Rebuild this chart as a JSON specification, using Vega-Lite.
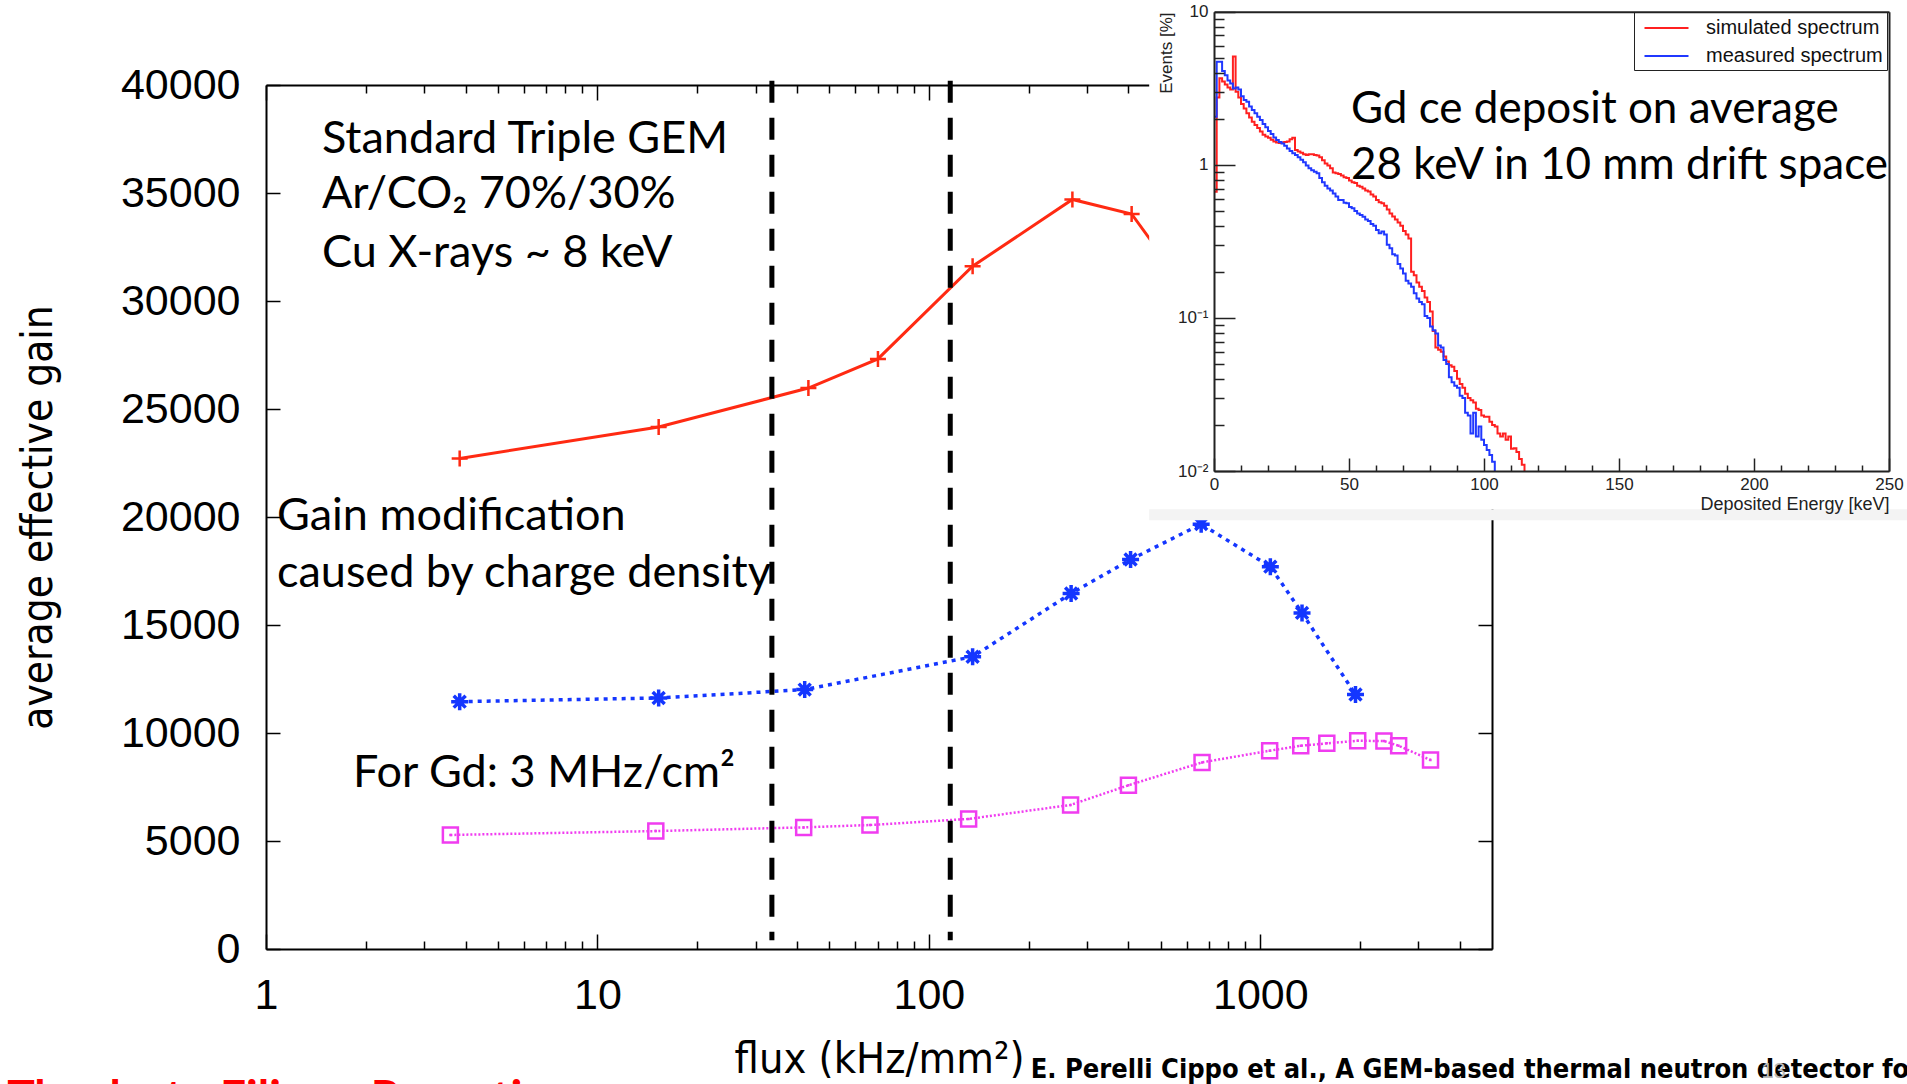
{
  "$schema": "https://vega.github.io/schema/vega-lite/v6.json",
  "width": 1907,
  "height": 1084,
  "autosize": "none",
  "padding": 0,
  "background": "white",
  "config": {
    "view": {"stroke": null},
    "font": "Liberation Sans",
    "axis": {"grid": false}
  },
  "datasets": {
    "gain": [
      {"series": "A", "flux": 3.84, "gain": 22710},
      {"series": "A", "flux": 15.3, "gain": 24170},
      {"series": "A", "flux": 43.3, "gain": 25970},
      {"series": "A", "flux": 70.2, "gain": 27320},
      {"series": "A", "flux": 135.5, "gain": 31610},
      {"series": "A", "flux": 271, "gain": 34700},
      {"series": "A", "flux": 409, "gain": 34030},
      {"series": "A", "flux": 1070, "gain": 25200},
      {"series": "B", "flux": 3.84, "gain": 11450},
      {"series": "B", "flux": 15.3, "gain": 11620},
      {"series": "B", "flux": 42.2, "gain": 12010},
      {"series": "B", "flux": 135.5, "gain": 13530},
      {"series": "B", "flux": 268.6, "gain": 16460},
      {"series": "B", "flux": 406, "gain": 18030},
      {"series": "B", "flux": 663, "gain": 19670},
      {"series": "B", "flux": 1072, "gain": 17700},
      {"series": "B", "flux": 1336, "gain": 15560},
      {"series": "B", "flux": 1937, "gain": 11780},
      {"series": "C", "flux": 3.6, "gain": 5280},
      {"series": "C", "flux": 15.0, "gain": 5460},
      {"series": "C", "flux": 41.9, "gain": 5630},
      {"series": "C", "flux": 66.4, "gain": 5740},
      {"series": "C", "flux": 131.8, "gain": 6020},
      {"series": "C", "flux": 267.6, "gain": 6670},
      {"series": "C", "flux": 400, "gain": 7580},
      {"series": "C", "flux": 667, "gain": 8640},
      {"series": "C", "flux": 1067, "gain": 9180},
      {"series": "C", "flux": 1324, "gain": 9410},
      {"series": "C", "flux": 1587, "gain": 9520},
      {"series": "C", "flux": 1967, "gain": 9640},
      {"series": "C", "flux": 2360, "gain": 9630},
      {"series": "C", "flux": 2614, "gain": 9410},
      {"series": "C", "flux": 3262, "gain": 8750}
    ],
    "cuts": [{"flux": 33.6}, {"flux": 116}],
    "notes": [
      {"kind": "plot", "text": "Standard Triple GEM", "flux": 1.475, "gain": 36850},
      {"kind": "plot", "text": "Ar/CO₂ 70%/30%", "flux": 1.475, "gain": 34310},
      {"kind": "plot", "text": "Cu X-rays ~ 8 keV", "flux": 1.475, "gain": 31570},
      {"kind": "plot", "text": "Gain modification", "flux": 1.079, "gain": 19400},
      {"kind": "plot", "text": "caused by charge density", "flux": 1.079, "gain": 16760},
      {"kind": "plot", "text": "For Gd: 3 MHz/cm²", "flux": 1.83, "gain": 7500},
      {"kind": "cite", "text": "E. Perelli Cippo et al., A GEM-based thermal neutron detector for", "flux": 202.8, "gain": -5972},
      {"kind": "thanks", "text": "Thanks to Filippo Resnati", "flux": 0.1656, "gain": -7593},
      {"kind": "page", "text": "13", "flux": 32460, "gain": -5972}
    ],
    "insetNotes": [
      {"text": "Gd ce deposit on average", "keV": 50.7, "events": 1.889},
      {"text": "28 keV in 10 mm drift space", "keV": 50.7, "events": 0.8105}
    ],
    "spectra": [
      {"spectrum": "simulated spectrum", "keV": 0, "events": 0.667},
      {"spectrum": "simulated spectrum", "keV": 1, "events": 2.75},
      {"spectrum": "simulated spectrum", "keV": 2, "events": 3.67},
      {"spectrum": "simulated spectrum", "keV": 3, "events": 3.5},
      {"spectrum": "simulated spectrum", "keV": 4, "events": 3.35},
      {"spectrum": "simulated spectrum", "keV": 5, "events": 3.2},
      {"spectrum": "simulated spectrum", "keV": 6, "events": 3.1},
      {"spectrum": "simulated spectrum", "keV": 7, "events": 5.1},
      {"spectrum": "simulated spectrum", "keV": 8, "events": 3.0},
      {"spectrum": "simulated spectrum", "keV": 9, "events": 2.75},
      {"spectrum": "simulated spectrum", "keV": 10, "events": 2.5},
      {"spectrum": "simulated spectrum", "keV": 11, "events": 2.33},
      {"spectrum": "simulated spectrum", "keV": 12, "events": 2.17},
      {"spectrum": "simulated spectrum", "keV": 13, "events": 2.04},
      {"spectrum": "simulated spectrum", "keV": 14, "events": 1.91},
      {"spectrum": "simulated spectrum", "keV": 15, "events": 1.82},
      {"spectrum": "simulated spectrum", "keV": 16, "events": 1.74},
      {"spectrum": "simulated spectrum", "keV": 17, "events": 1.65},
      {"spectrum": "simulated spectrum", "keV": 18, "events": 1.57},
      {"spectrum": "simulated spectrum", "keV": 19, "events": 1.53},
      {"spectrum": "simulated spectrum", "keV": 20, "events": 1.5},
      {"spectrum": "simulated spectrum", "keV": 21, "events": 1.46},
      {"spectrum": "simulated spectrum", "keV": 22, "events": 1.42},
      {"spectrum": "simulated spectrum", "keV": 23, "events": 1.4},
      {"spectrum": "simulated spectrum", "keV": 24, "events": 1.39},
      {"spectrum": "simulated spectrum", "keV": 25, "events": 1.4},
      {"spectrum": "simulated spectrum", "keV": 26, "events": 1.41},
      {"spectrum": "simulated spectrum", "keV": 27, "events": 1.42},
      {"spectrum": "simulated spectrum", "keV": 28, "events": 1.47},
      {"spectrum": "simulated spectrum", "keV": 29, "events": 1.5},
      {"spectrum": "simulated spectrum", "keV": 30, "events": 1.25},
      {"spectrum": "simulated spectrum", "keV": 31, "events": 1.22},
      {"spectrum": "simulated spectrum", "keV": 32, "events": 1.2},
      {"spectrum": "simulated spectrum", "keV": 33, "events": 1.17},
      {"spectrum": "simulated spectrum", "keV": 34, "events": 1.16},
      {"spectrum": "simulated spectrum", "keV": 35, "events": 1.17},
      {"spectrum": "simulated spectrum", "keV": 36, "events": 1.17},
      {"spectrum": "simulated spectrum", "keV": 37, "events": 1.16},
      {"spectrum": "simulated spectrum", "keV": 38, "events": 1.15},
      {"spectrum": "simulated spectrum", "keV": 39, "events": 1.12},
      {"spectrum": "simulated spectrum", "keV": 40, "events": 1.07},
      {"spectrum": "simulated spectrum", "keV": 41, "events": 1.02},
      {"spectrum": "simulated spectrum", "keV": 42, "events": 0.99},
      {"spectrum": "simulated spectrum", "keV": 43, "events": 0.95},
      {"spectrum": "simulated spectrum", "keV": 44, "events": 0.89},
      {"spectrum": "simulated spectrum", "keV": 45, "events": 0.88},
      {"spectrum": "simulated spectrum", "keV": 46, "events": 0.87},
      {"spectrum": "simulated spectrum", "keV": 47, "events": 0.85},
      {"spectrum": "simulated spectrum", "keV": 48, "events": 0.83},
      {"spectrum": "simulated spectrum", "keV": 49, "events": 0.82},
      {"spectrum": "simulated spectrum", "keV": 50, "events": 0.79},
      {"spectrum": "simulated spectrum", "keV": 51, "events": 0.77},
      {"spectrum": "simulated spectrum", "keV": 52, "events": 0.76},
      {"spectrum": "simulated spectrum", "keV": 53, "events": 0.73},
      {"spectrum": "simulated spectrum", "keV": 54, "events": 0.72},
      {"spectrum": "simulated spectrum", "keV": 55, "events": 0.7},
      {"spectrum": "simulated spectrum", "keV": 56, "events": 0.68},
      {"spectrum": "simulated spectrum", "keV": 57, "events": 0.67},
      {"spectrum": "simulated spectrum", "keV": 58, "events": 0.64},
      {"spectrum": "simulated spectrum", "keV": 59, "events": 0.62},
      {"spectrum": "simulated spectrum", "keV": 60, "events": 0.59},
      {"spectrum": "simulated spectrum", "keV": 61, "events": 0.57},
      {"spectrum": "simulated spectrum", "keV": 62, "events": 0.56},
      {"spectrum": "simulated spectrum", "keV": 63, "events": 0.54},
      {"spectrum": "simulated spectrum", "keV": 64, "events": 0.51},
      {"spectrum": "simulated spectrum", "keV": 65, "events": 0.48},
      {"spectrum": "simulated spectrum", "keV": 66, "events": 0.46},
      {"spectrum": "simulated spectrum", "keV": 67, "events": 0.44},
      {"spectrum": "simulated spectrum", "keV": 68, "events": 0.42},
      {"spectrum": "simulated spectrum", "keV": 69, "events": 0.4},
      {"spectrum": "simulated spectrum", "keV": 70, "events": 0.37},
      {"spectrum": "simulated spectrum", "keV": 71, "events": 0.35},
      {"spectrum": "simulated spectrum", "keV": 72, "events": 0.33},
      {"spectrum": "simulated spectrum", "keV": 73, "events": 0.2},
      {"spectrum": "simulated spectrum", "keV": 74, "events": 0.19},
      {"spectrum": "simulated spectrum", "keV": 75, "events": 0.17},
      {"spectrum": "simulated spectrum", "keV": 76, "events": 0.16},
      {"spectrum": "simulated spectrum", "keV": 77, "events": 0.15},
      {"spectrum": "simulated spectrum", "keV": 78, "events": 0.136},
      {"spectrum": "simulated spectrum", "keV": 79, "events": 0.127},
      {"spectrum": "simulated spectrum", "keV": 80, "events": 0.11},
      {"spectrum": "simulated spectrum", "keV": 81, "events": 0.082},
      {"spectrum": "simulated spectrum", "keV": 82, "events": 0.064},
      {"spectrum": "simulated spectrum", "keV": 83, "events": 0.062},
      {"spectrum": "simulated spectrum", "keV": 84, "events": 0.06},
      {"spectrum": "simulated spectrum", "keV": 85, "events": 0.056},
      {"spectrum": "simulated spectrum", "keV": 86, "events": 0.052},
      {"spectrum": "simulated spectrum", "keV": 87, "events": 0.049},
      {"spectrum": "simulated spectrum", "keV": 88, "events": 0.048},
      {"spectrum": "simulated spectrum", "keV": 89, "events": 0.045},
      {"spectrum": "simulated spectrum", "keV": 90, "events": 0.04},
      {"spectrum": "simulated spectrum", "keV": 91, "events": 0.037},
      {"spectrum": "simulated spectrum", "keV": 92, "events": 0.035},
      {"spectrum": "simulated spectrum", "keV": 93, "events": 0.032},
      {"spectrum": "simulated spectrum", "keV": 94, "events": 0.03},
      {"spectrum": "simulated spectrum", "keV": 95, "events": 0.029},
      {"spectrum": "simulated spectrum", "keV": 96, "events": 0.028},
      {"spectrum": "simulated spectrum", "keV": 97, "events": 0.0255},
      {"spectrum": "simulated spectrum", "keV": 98, "events": 0.025},
      {"spectrum": "simulated spectrum", "keV": 99, "events": 0.023},
      {"spectrum": "simulated spectrum", "keV": 100, "events": 0.0226},
      {"spectrum": "simulated spectrum", "keV": 101, "events": 0.0226},
      {"spectrum": "simulated spectrum", "keV": 102, "events": 0.021},
      {"spectrum": "simulated spectrum", "keV": 103, "events": 0.02},
      {"spectrum": "simulated spectrum", "keV": 104, "events": 0.0195},
      {"spectrum": "simulated spectrum", "keV": 105, "events": 0.0176},
      {"spectrum": "simulated spectrum", "keV": 106, "events": 0.0168},
      {"spectrum": "simulated spectrum", "keV": 107, "events": 0.0176},
      {"spectrum": "simulated spectrum", "keV": 108, "events": 0.016},
      {"spectrum": "simulated spectrum", "keV": 109, "events": 0.0168},
      {"spectrum": "simulated spectrum", "keV": 110, "events": 0.014},
      {"spectrum": "simulated spectrum", "keV": 111, "events": 0.0141},
      {"spectrum": "simulated spectrum", "keV": 112, "events": 0.0133},
      {"spectrum": "simulated spectrum", "keV": 113, "events": 0.012},
      {"spectrum": "simulated spectrum", "keV": 114, "events": 0.011},
      {"spectrum": "simulated spectrum", "keV": 115, "events": 0.01},
      {"spectrum": "measured spectrum", "keV": 0, "events": 2.06},
      {"spectrum": "measured spectrum", "keV": 1, "events": 4.71},
      {"spectrum": "measured spectrum", "keV": 2, "events": 4.71},
      {"spectrum": "measured spectrum", "keV": 3, "events": 4.1},
      {"spectrum": "measured spectrum", "keV": 4, "events": 3.85},
      {"spectrum": "measured spectrum", "keV": 5, "events": 3.55},
      {"spectrum": "measured spectrum", "keV": 6, "events": 3.4},
      {"spectrum": "measured spectrum", "keV": 7, "events": 3.15},
      {"spectrum": "measured spectrum", "keV": 8, "events": 3.2},
      {"spectrum": "measured spectrum", "keV": 9, "events": 3.1},
      {"spectrum": "measured spectrum", "keV": 10, "events": 2.8},
      {"spectrum": "measured spectrum", "keV": 11, "events": 2.65},
      {"spectrum": "measured spectrum", "keV": 12, "events": 2.58},
      {"spectrum": "measured spectrum", "keV": 13, "events": 2.4},
      {"spectrum": "measured spectrum", "keV": 14, "events": 2.28},
      {"spectrum": "measured spectrum", "keV": 15, "events": 2.17},
      {"spectrum": "measured spectrum", "keV": 16, "events": 2.06},
      {"spectrum": "measured spectrum", "keV": 17, "events": 1.96},
      {"spectrum": "measured spectrum", "keV": 18, "events": 1.85},
      {"spectrum": "measured spectrum", "keV": 19, "events": 1.76},
      {"spectrum": "measured spectrum", "keV": 20, "events": 1.66},
      {"spectrum": "measured spectrum", "keV": 21, "events": 1.59},
      {"spectrum": "measured spectrum", "keV": 22, "events": 1.51},
      {"spectrum": "measured spectrum", "keV": 23, "events": 1.45},
      {"spectrum": "measured spectrum", "keV": 24, "events": 1.41},
      {"spectrum": "measured spectrum", "keV": 25, "events": 1.38},
      {"spectrum": "measured spectrum", "keV": 26, "events": 1.33},
      {"spectrum": "measured spectrum", "keV": 27, "events": 1.28},
      {"spectrum": "measured spectrum", "keV": 28, "events": 1.23},
      {"spectrum": "measured spectrum", "keV": 29, "events": 1.19},
      {"spectrum": "measured spectrum", "keV": 30, "events": 1.16},
      {"spectrum": "measured spectrum", "keV": 31, "events": 1.12},
      {"spectrum": "measured spectrum", "keV": 32, "events": 1.08},
      {"spectrum": "measured spectrum", "keV": 33, "events": 1.04},
      {"spectrum": "measured spectrum", "keV": 34, "events": 0.99},
      {"spectrum": "measured spectrum", "keV": 35, "events": 0.95},
      {"spectrum": "measured spectrum", "keV": 36, "events": 0.92},
      {"spectrum": "measured spectrum", "keV": 37, "events": 0.9},
      {"spectrum": "measured spectrum", "keV": 38, "events": 0.88},
      {"spectrum": "measured spectrum", "keV": 39, "events": 0.82},
      {"spectrum": "measured spectrum", "keV": 40, "events": 0.77},
      {"spectrum": "measured spectrum", "keV": 41, "events": 0.73},
      {"spectrum": "measured spectrum", "keV": 42, "events": 0.7},
      {"spectrum": "measured spectrum", "keV": 43, "events": 0.68},
      {"spectrum": "measured spectrum", "keV": 44, "events": 0.65},
      {"spectrum": "measured spectrum", "keV": 45, "events": 0.62},
      {"spectrum": "measured spectrum", "keV": 46, "events": 0.59},
      {"spectrum": "measured spectrum", "keV": 47, "events": 0.59},
      {"spectrum": "measured spectrum", "keV": 48, "events": 0.566},
      {"spectrum": "measured spectrum", "keV": 49, "events": 0.56},
      {"spectrum": "measured spectrum", "keV": 50, "events": 0.53},
      {"spectrum": "measured spectrum", "keV": 51, "events": 0.52},
      {"spectrum": "measured spectrum", "keV": 52, "events": 0.5},
      {"spectrum": "measured spectrum", "keV": 53, "events": 0.48},
      {"spectrum": "measured spectrum", "keV": 54, "events": 0.47},
      {"spectrum": "measured spectrum", "keV": 55, "events": 0.458},
      {"spectrum": "measured spectrum", "keV": 56, "events": 0.44},
      {"spectrum": "measured spectrum", "keV": 57, "events": 0.43},
      {"spectrum": "measured spectrum", "keV": 58, "events": 0.41},
      {"spectrum": "measured spectrum", "keV": 59, "events": 0.4},
      {"spectrum": "measured spectrum", "keV": 60, "events": 0.375},
      {"spectrum": "measured spectrum", "keV": 61, "events": 0.357},
      {"spectrum": "measured spectrum", "keV": 62, "events": 0.367},
      {"spectrum": "measured spectrum", "keV": 63, "events": 0.35},
      {"spectrum": "measured spectrum", "keV": 64, "events": 0.3},
      {"spectrum": "measured spectrum", "keV": 65, "events": 0.285},
      {"spectrum": "measured spectrum", "keV": 66, "events": 0.26},
      {"spectrum": "measured spectrum", "keV": 67, "events": 0.256},
      {"spectrum": "measured spectrum", "keV": 68, "events": 0.225},
      {"spectrum": "measured spectrum", "keV": 69, "events": 0.21},
      {"spectrum": "measured spectrum", "keV": 70, "events": 0.195},
      {"spectrum": "measured spectrum", "keV": 71, "events": 0.175},
      {"spectrum": "measured spectrum", "keV": 72, "events": 0.168},
      {"spectrum": "measured spectrum", "keV": 73, "events": 0.16},
      {"spectrum": "measured spectrum", "keV": 74, "events": 0.145},
      {"spectrum": "measured spectrum", "keV": 75, "events": 0.134},
      {"spectrum": "measured spectrum", "keV": 76, "events": 0.127},
      {"spectrum": "measured spectrum", "keV": 77, "events": 0.123},
      {"spectrum": "measured spectrum", "keV": 78, "events": 0.103},
      {"spectrum": "measured spectrum", "keV": 79, "events": 0.1},
      {"spectrum": "measured spectrum", "keV": 80, "events": 0.088},
      {"spectrum": "measured spectrum", "keV": 81, "events": 0.083},
      {"spectrum": "measured spectrum", "keV": 82, "events": 0.079},
      {"spectrum": "measured spectrum", "keV": 83, "events": 0.066},
      {"spectrum": "measured spectrum", "keV": 84, "events": 0.064},
      {"spectrum": "measured spectrum", "keV": 85, "events": 0.053},
      {"spectrum": "measured spectrum", "keV": 86, "events": 0.05},
      {"spectrum": "measured spectrum", "keV": 87, "events": 0.041},
      {"spectrum": "measured spectrum", "keV": 88, "events": 0.038},
      {"spectrum": "measured spectrum", "keV": 89, "events": 0.036},
      {"spectrum": "measured spectrum", "keV": 90, "events": 0.035},
      {"spectrum": "measured spectrum", "keV": 91, "events": 0.031},
      {"spectrum": "measured spectrum", "keV": 92, "events": 0.03},
      {"spectrum": "measured spectrum", "keV": 93, "events": 0.024},
      {"spectrum": "measured spectrum", "keV": 94, "events": 0.023},
      {"spectrum": "measured spectrum", "keV": 95, "events": 0.0176},
      {"spectrum": "measured spectrum", "keV": 96, "events": 0.024},
      {"spectrum": "measured spectrum", "keV": 97, "events": 0.0168},
      {"spectrum": "measured spectrum", "keV": 98, "events": 0.0195},
      {"spectrum": "measured spectrum", "keV": 99, "events": 0.016},
      {"spectrum": "measured spectrum", "keV": 100, "events": 0.0148},
      {"spectrum": "measured spectrum", "keV": 101, "events": 0.0137},
      {"spectrum": "measured spectrum", "keV": 102, "events": 0.0127},
      {"spectrum": "measured spectrum", "keV": 103, "events": 0.0115},
      {"spectrum": "measured spectrum", "keV": 104, "events": 0.01}
    ]
  },
  "resolve": {"scale": {"x": "independent", "y": "independent", "color": "independent"}},
  "layer": [
    {
      "data": {"name": "gain"},
      "transform": [{"filter": "datum.series === 'A'"}],
      "mark": {
        "type": "line", "color": "#ff2a12", "strokeWidth": 3,
        "point": {"shape": "M-1,0L1,0M0,-1L0,1", "size": 256, "filled": false, "strokeWidth": 2.5, "color": "#ff2a12"}
      },
      "encoding": {
        "x": {
          "field": "flux", "type": "quantitative",
          "scale": {"type": "log", "domain": [1, 5000], "range": [266, 1492], "nice": false},
          "axis": {
            "orient": "bottom", "offset": -135, "zindex": 0,
            "values": [1, 2, 3, 4, 5, 6, 7, 8, 9, 10, 20, 30, 40, 50, 60, 70, 80, 90, 100, 200, 300, 400, 500, 600, 700, 800, 900, 1000, 2000, 3000, 4000],
            "format": "d",
            "labelExpr": "indexof([1, 10, 100, 1000], datum.value) >= 0 ? datum.label : ''",
            "labelFont": "Liberation Sans", "labelFontSize": 43, "labelColor": "black",
            "labelPadding": 40, "labelFlush": false, "labelOverlap": false, "labelBaseline": "top",
            "tickSize": -15, "tickColor": "black", "tickWidth": 1.5,
            "tickDash": {"condition": {"test": "indexof([1, 10, 100, 1000], datum.value) < 0", "value": [8, 100]}, "value": [100, 0]},
            "domainColor": "black", "domainWidth": 2,
            "title": "flux (kHz/mm²)",
            "titleFont": "Liberation Sans Narrow, DejaVu Sans Condensed, Liberation Sans",
            "titleFontSize": 43, "titleFontWeight": "normal", "titleColor": "black",
            "titleX": 879, "titleY": 123, "titleAlign": "center", "titleBaseline": "alphabetic"
          }
        },
        "y": {
          "field": "gain", "type": "quantitative",
          "scale": {"domain": [0, 40000], "range": [949, 85], "nice": false, "zero": false},
          "axis": {
            "orient": "left", "offset": -266, "zindex": 0,
            "values": [0, 5000, 10000, 15000, 20000, 25000, 30000, 35000, 40000],
            "format": "d",
            "labelFont": "Liberation Sans", "labelFontSize": 43, "labelColor": "black",
            "labelPadding": 40, "labelFlush": false, "labelOverlap": false,
            "tickSize": -14, "tickColor": "black", "tickWidth": 1.5,
            "domainColor": "black", "domainWidth": 2,
            "title": "average effective gain",
            "titleFont": "Liberation Sans Narrow, DejaVu Sans Condensed, Liberation Sans",
            "titleFontSize": 42, "titleFontWeight": "normal", "titleColor": "black",
            "titleAngle": 270, "titleX": -228, "titleY": 517, "titleAlign": "center", "titleBaseline": "middle"
          }
        }
      }
    },
    {
      "data": {"name": "gain"},
      "transform": [{"filter": "datum.series === 'B'"}],
      "mark": {
        "type": "line", "color": "#1436ff", "strokeWidth": 3.5, "strokeDash": [4, 5],
        "point": {"shape": "M-1,0L1,0M0,-1L0,1M-0.7,-0.7L0.7,0.7M-0.7,0.7L0.7,-0.7", "size": 289, "filled": false, "strokeWidth": 3.5, "color": "#1436ff"}
      },
      "encoding": {
        "x": {
          "field": "flux", "type": "quantitative",
          "scale": {"type": "log", "domain": [1, 5000], "range": [266, 1492], "nice": false},
          "axis": {
            "orient": "top", "offset": -85, "zindex": 0,
            "values": [1, 2, 3, 4, 5, 6, 7, 8, 9, 10, 20, 30, 40, 50, 60, 70, 80, 90, 100, 200, 300, 400, 500, 600, 700, 800, 900, 1000, 2000, 3000, 4000],
            "labels": false, "title": null,
            "tickSize": -15, "tickColor": "black", "tickWidth": 1.5,
            "tickDash": {"condition": {"test": "indexof([1, 10, 100, 1000], datum.value) < 0", "value": [8, 100]}, "value": [100, 0]},
            "domainColor": "black", "domainWidth": 2
          }
        },
        "y": {
          "field": "gain", "type": "quantitative",
          "scale": {"domain": [0, 40000], "range": [949, 85], "nice": false, "zero": false},
          "axis": {
            "orient": "right", "offset": -415, "zindex": 0,
            "values": [0, 5000, 10000, 15000, 20000, 25000, 30000, 35000, 40000],
            "labels": false, "title": null,
            "tickSize": -14, "tickColor": "black", "tickWidth": 1.5,
            "domainColor": "black", "domainWidth": 2
          }
        }
      }
    },
    {
      "data": {"name": "gain"},
      "transform": [{"filter": "datum.series === 'C'"}],
      "mark": {
        "type": "line", "color": "#f03cf0", "strokeWidth": 2.5, "strokeDash": [2, 2],
        "point": {"shape": "M-1,-1L1,-1L1,1L-1,1ZM-0.15,0L0.15,0", "size": 225, "filled": false, "strokeWidth": 2.5, "color": "#f03cf0"}
      },
      "encoding": {
        "x": {"field": "flux", "type": "quantitative", "scale": {"type": "log", "domain": [1, 5000], "range": [266, 1492], "nice": false}, "axis": null},
        "y": {"field": "gain", "type": "quantitative", "scale": {"domain": [0, 40000], "range": [949, 85], "nice": false, "zero": false}, "axis": null}
      }
    },
    {
      "data": {"name": "cuts"},
      "mark": {"type": "rule", "color": "black", "strokeWidth": 5, "strokeDash": [22, 15]},
      "encoding": {
        "x": {"field": "flux", "type": "quantitative", "scale": {"type": "log", "domain": [1, 5000], "range": [266, 1492], "nice": false}, "axis": null},
        "y": {"datum": 40200, "type": "quantitative", "scale": {"domain": [0, 40000], "range": [949, 85], "nice": false, "zero": false}, "axis": null},
        "y2": {"datum": 400}
      }
    },
    {
      "data": {"name": "notes"},
      "transform": [{"filter": "datum.kind === 'plot'"}],
      "mark": {"type": "text", "align": "left", "baseline": "alphabetic", "font": "Lato, Open Sans, DejaVu Sans", "fontSize": 45, "color": "black"},
      "encoding": {
        "x": {"field": "flux", "type": "quantitative", "scale": {"type": "log", "domain": [1, 5000], "range": [266, 1492], "nice": false}, "axis": null},
        "y": {"field": "gain", "type": "quantitative", "scale": {"domain": [0, 40000], "range": [949, 85], "nice": false, "zero": false}, "axis": null},
        "text": {"field": "text"}
      }
    },
    {
      "data": {"name": "notes"},
      "transform": [{"filter": "datum.kind === 'cite'"}],
      "mark": {"type": "text", "align": "left", "baseline": "alphabetic", "font": "Liberation Sans Narrow, DejaVu Sans Condensed, Liberation Sans", "fontWeight": "bold", "fontSize": 27, "color": "black"},
      "encoding": {
        "x": {"field": "flux", "type": "quantitative", "scale": {"type": "log", "domain": [1, 5000], "range": [266, 1492], "nice": false}, "axis": null},
        "y": {"field": "gain", "type": "quantitative", "scale": {"domain": [0, 40000], "range": [949, 85], "nice": false, "zero": false}, "axis": null},
        "text": {"field": "text"}
      }
    },
    {
      "data": {"name": "notes"},
      "transform": [{"filter": "datum.kind === 'thanks'"}],
      "mark": {"type": "text", "align": "left", "baseline": "alphabetic", "font": "Lato, Open Sans, DejaVu Sans", "fontWeight": "bold", "fontSize": 46, "color": "#ff0000"},
      "encoding": {
        "x": {"field": "flux", "type": "quantitative", "scale": {"type": "log", "domain": [1, 5000], "range": [266, 1492], "nice": false}, "axis": null},
        "y": {"field": "gain", "type": "quantitative", "scale": {"domain": [0, 40000], "range": [949, 85], "nice": false, "zero": false}, "axis": null},
        "text": {"field": "text"}
      }
    },
    {
      "data": {"name": "notes"},
      "transform": [{"filter": "datum.kind === 'page'"}],
      "mark": {"type": "text", "align": "left", "baseline": "alphabetic", "font": "Liberation Sans", "fontSize": 22, "color": "#b8b8b8"},
      "encoding": {
        "x": {"field": "flux", "type": "quantitative", "scale": {"type": "log", "domain": [1, 5000], "range": [266, 1492], "nice": false}, "axis": null},
        "y": {"field": "gain", "type": "quantitative", "scale": {"domain": [0, 40000], "range": [949, 85], "nice": false, "zero": false}, "axis": null},
        "text": {"field": "text"}
      }
    },
    {
      "data": {"values": [{}]},
      "mark": {"type": "rect", "color": "white"},
      "encoding": {
        "x": {
          "datum": -24, "type": "quantitative",
          "scale": {"domain": [0, 250], "range": [1214, 1889], "nice": false, "zero": false},
          "axis": {"orient": "top", "offset": -11.7, "zindex": 1, "ticks": false, "labels": false, "title": null, "domainColor": "#222", "domainWidth": 2}
        },
        "x2": {"datum": 260},
        "y": {
          "datum": 12, "type": "quantitative",
          "scale": {"type": "log", "domain": [0.01, 10], "range": [471, 11.7], "nice": false},
          "axis": {"orient": "right", "offset": -18, "zindex": 1, "ticks": false, "labels": false, "title": null, "domainColor": "#222", "domainWidth": 2}
        },
        "y2": {"datum": 0.00562}
      }
    },
    {
      "data": {"values": [{}]},
      "mark": {"type": "rect", "color": "#f3f3f3"},
      "encoding": {
        "x": {"datum": -24, "type": "quantitative", "scale": {"domain": [0, 250], "range": [1214, 1889], "nice": false, "zero": false}, "axis": null},
        "x2": {"datum": 260},
        "y": {"datum": 0.00562, "type": "quantitative", "scale": {"type": "log", "domain": [0.01, 10], "range": [471, 11.7], "nice": false}, "axis": null},
        "y2": {"datum": 0.004765}
      }
    },
    {
      "data": {"name": "spectra"},
      "mark": {"type": "line", "interpolate": "step-after", "strokeWidth": 2},
      "encoding": {
        "x": {
          "field": "keV", "type": "quantitative",
          "scale": {"domain": [0, 250], "range": [1214, 1889], "nice": false, "zero": false},
          "axis": {
            "orient": "bottom", "offset": -613, "zindex": 1,
            "values": [0, 10, 20, 30, 40, 50, 60, 70, 80, 90, 100, 110, 120, 130, 140, 150, 160, 170, 180, 190, 200, 210, 220, 230, 240, 250],
            "format": "d",
            "labelExpr": "datum.value % 50 == 0 ? datum.label : ''",
            "labelFont": "Liberation Sans", "labelFontSize": 17, "labelColor": "#222",
            "labelPadding": 18, "labelFlush": false, "labelOverlap": false, "labelBaseline": "top",
            "tickSize": -13, "tickColor": "#222", "tickWidth": 1.5,
            "tickDash": {"condition": {"test": "datum.value % 50 != 0", "value": [6, 100]}, "value": [100, 0]},
            "domainColor": "#222", "domainWidth": 2,
            "title": "Deposited Energy [keV]",
            "titleFont": "Liberation Sans", "titleFontSize": 18, "titleFontWeight": "normal", "titleColor": "#222",
            "titleX": 1889, "titleY": 33, "titleAlign": "right", "titleBaseline": "middle"
          }
        },
        "y": {
          "field": "events", "type": "quantitative",
          "scale": {"type": "log", "domain": [0.01, 10], "range": [471, 11.7], "nice": false},
          "axis": {
            "orient": "left", "offset": -1214, "zindex": 1,
            "values": [0.01, 0.02, 0.03, 0.04, 0.05, 0.06, 0.07, 0.08, 0.09, 0.1, 0.2, 0.3, 0.4, 0.5, 0.6, 0.7, 0.8, 0.9, 1, 2, 3, 4, 5, 6, 7, 8, 9, 10],
            "labelExpr": "datum.value == 10 ? '10' : datum.value == 1 ? '1' : datum.value == 0.1 ? '10⁻¹' : datum.value == 0.01 ? '10⁻²' : ''",
            "labelFont": "Liberation Sans", "labelFontSize": 17, "labelColor": "#222",
            "labelPadding": 27, "labelFlush": false, "labelOverlap": false,
            "tickSize": -21, "tickColor": "#222", "tickWidth": 1.5,
            "tickDash": {"condition": {"test": "indexof([0.01, 0.1, 1, 10], datum.value) < 0", "value": [10, 100]}, "value": [100, 0]},
            "domainColor": "#222", "domainWidth": 2,
            "title": "Events [%]",
            "titleFont": "Liberation Sans", "titleFontSize": 17, "titleFontWeight": "normal", "titleColor": "#222",
            "titleAngle": 270, "titleX": -48, "titleY": 12, "titleAlign": "right", "titleBaseline": "middle"
          }
        },
        "color": {
          "field": "spectrum", "type": "nominal",
          "scale": {"domain": ["simulated spectrum", "measured spectrum"], "range": ["#ff2020", "#2038ff"]},
          "legend": {
            "title": null, "orient": "none", "legendX": 1634, "legendY": 12,
            "direction": "vertical", "fillColor": "white", "strokeColor": "#222",
            "padding": 4, "rowPadding": 6,
            "symbolType": "M-0.5,0L3.5,0", "symbolSize": 484, "symbolStrokeWidth": 2,
            "labelOffset": 44, "labelLimit": 400, "labelFont": "Liberation Sans", "labelFontSize": 20, "labelColor": "#111"
          }
        }
      }
    },
    {
      "data": {"name": "insetNotes"},
      "mark": {"type": "text", "align": "left", "baseline": "alphabetic", "font": "Lato, Open Sans, DejaVu Sans", "fontSize": 44, "color": "black"},
      "encoding": {
        "x": {"field": "keV", "type": "quantitative", "scale": {"domain": [0, 250], "range": [1214, 1889], "nice": false, "zero": false}, "axis": null},
        "y": {"field": "events", "type": "quantitative", "scale": {"type": "log", "domain": [0.01, 10], "range": [471, 11.7], "nice": false}, "axis": null},
        "text": {"field": "text"}
      }
    }
  ]
}
